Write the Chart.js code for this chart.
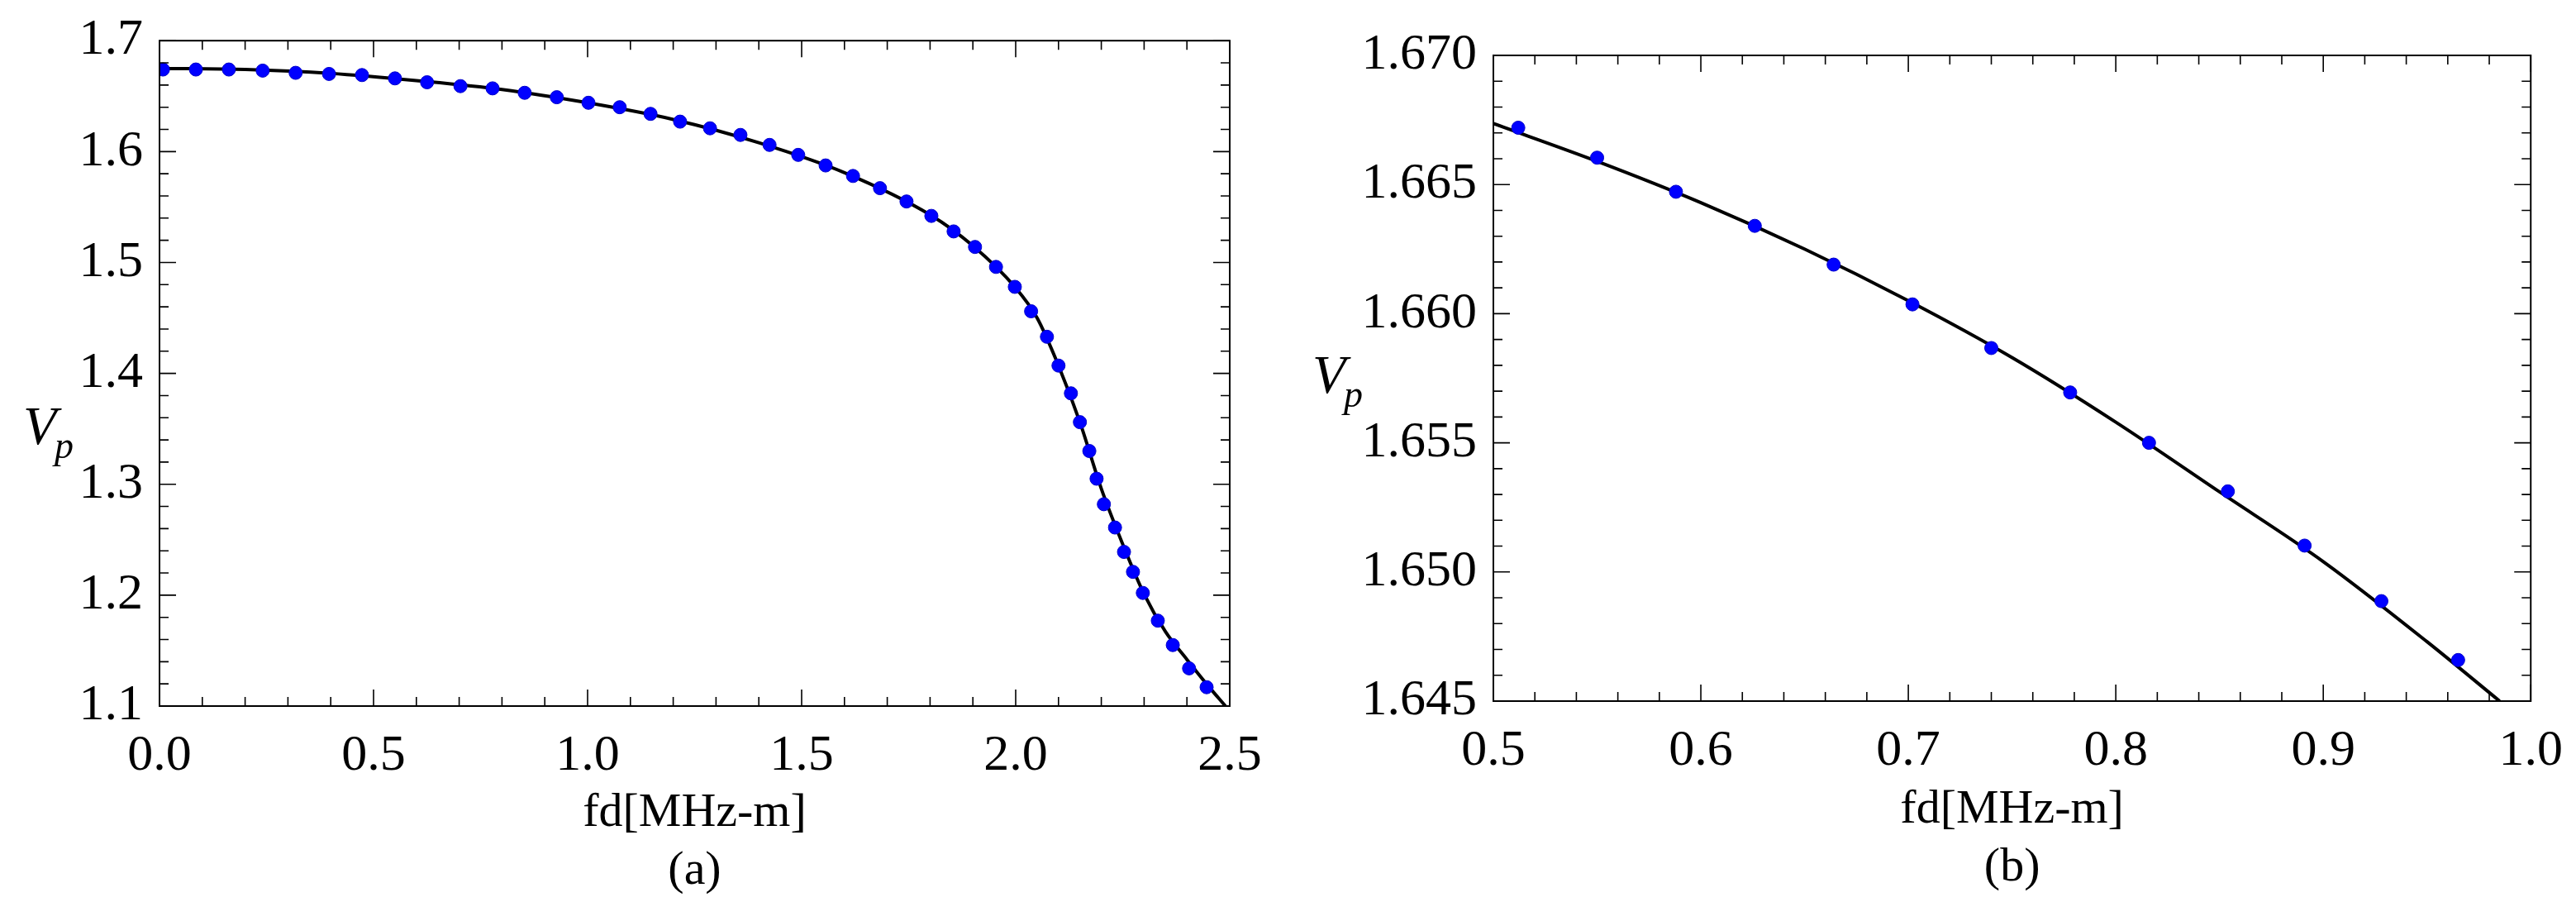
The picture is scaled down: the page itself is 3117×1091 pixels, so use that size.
<!DOCTYPE html>
<html>
<head>
<meta charset="utf-8">
<script src="https://cdn.jsdelivr.net/npm/chart.js@4/dist/chart.umd.min.js"></script>
<style>
  body { margin: 0; background: #fff; width: 3117px; height: 1091px; position: relative; overflow: hidden; }
  .panel { position: absolute; top: 0; height: 1091px; }
</style>
</head>
<body>
<div class="panel" style="left:0;width:1560px"><canvas id="chart-a"></canvas></div>
<div class="panel" style="left:1560px;width:1557px"><canvas id="chart-b"></canvas></div>
<script>
// panel (a): sampled points and fitted curve
var ptsAX = [0.008,0.085,0.162,0.241,0.318,0.396,0.473,0.55,0.625,0.703,0.778,0.853,0.928,1.002,1.075,1.147,1.216,1.286,1.357,1.425,1.492,1.556,1.62,1.683,1.745,1.803,1.855,1.905,1.954,1.998,2.036,2.073,2.1,2.129,2.15,2.172,2.189,2.206,2.232,2.253,2.274,2.297,2.332,2.367,2.405,2.446];
var ptsAY = [1.674,1.674,1.674,1.673,1.671,1.670,1.669,1.666,1.6625,1.659,1.657,1.653,1.649,1.644,1.640,1.634,1.627,1.621,1.615,1.606,1.597,1.5875,1.578,1.567,1.555,1.542,1.528,1.514,1.496,1.478,1.456,1.433,1.407,1.382,1.356,1.330,1.305,1.282,1.261,1.239,1.221,1.202,1.177,1.155,1.134,1.117];
var curveAX = [0, 0.2, 0.4, 0.6, 0.8, 1.0, 1.2, 1.4, 1.6, 1.8, 1.9, 2.0, 2.05, 2.1, 2.15, 2.2, 2.25, 2.3, 2.35, 2.4, 2.45, 2.49];
var curveAY = [1.675, 1.674, 1.6705, 1.664, 1.656, 1.644, 1.629, 1.608, 1.581, 1.543, 1.515, 1.477, 1.450, 1.407, 1.356, 1.296, 1.246, 1.201, 1.167, 1.142, 1.118, 1.100];
// panel (b): zoomed region
var ptsBX = [0.512,0.550,0.588,0.626,0.664,0.702,0.740,0.778,0.816,0.854,0.891,0.928,0.965];
var ptsBY = [1.66720,1.66604,1.66472,1.66340,1.66190,1.66036,1.65867,1.65695,1.65500,1.65312,1.65102,1.64887,1.64659];
var curveBX = [0.5, 0.55, 0.6, 0.65, 0.7, 0.75, 0.8, 0.85, 0.9, 0.95, 0.985];
var curveBY = [1.66736, 1.6659, 1.6643, 1.6625, 1.6605, 1.6583, 1.6558, 1.6531, 1.6504, 1.6473, 1.6450];

var FONT = 'Liberation Serif, serif';
Chart.defaults.font.family = FONT;

function xy(xs, ys) { return xs.map(function (x, i) { return { x: x, y: ys[i] }; }); }

// inward ticks on all four sides, frame, and axis titles
function frameTicks(cfg) {
  return {
    id: 'frameTicks',
    afterDraw: function (chart) {
      var c = chart.ctx, a = chart.chartArea, sx = chart.scales.x, sy = chart.scales.y;
      c.save();
      c.strokeStyle = '#000'; c.lineWidth = 2;
      c.strokeRect(a.left, a.top, a.right - a.left, a.bottom - a.top);
      c.lineWidth = 1.6;
      function ticks(min, max, step, major, fn) {
        var n = Math.round((max - min) / step);
        for (var i = 0; i <= n; i++) {
          var v = min + i * step;
          var isMajor = Math.abs(Math.round(v / major) * major - v) < step / 10;
          fn(v, isMajor ? 20 : 11);
        }
      }
      c.beginPath();
      ticks(cfg.xmin, cfg.xmax, cfg.xminor, cfg.xmajor, function (v, L) {
        var p = sx.getPixelForValue(v);
        c.moveTo(p, a.bottom); c.lineTo(p, a.bottom - L);
        c.moveTo(p, a.top); c.lineTo(p, a.top + L);
      });
      ticks(cfg.ymin, cfg.ymax, cfg.yminor, cfg.ymajor, function (v, L) {
        var p = sy.getPixelForValue(v);
        c.moveTo(a.left, p); c.lineTo(a.left + L, p);
        c.moveTo(a.right, p); c.lineTo(a.right - L, p);
      });
      c.stroke();
      c.fillStyle = '#000';
      c.textAlign = 'center'; c.textBaseline = 'middle';
      c.font = '58px ' + FONT;
      var cx = (a.left + a.right) / 2;
      c.fillText('fd[MHz-m]', cx, cfg.titleY);
      c.fillText(cfg.tag, cx, cfg.titleY + 70);
      c.font = 'italic 66px ' + FONT;
      c.textAlign = 'left';
      c.fillText('V', cfg.vx, cfg.vy);
      c.font = 'italic 46px ' + FONT;
      c.fillText('p', cfg.vx + 38, cfg.vy + 22);
      c.restore();
    }
  };
}

function makeChart(id, ptsX, ptsY, curX, curY, cfg) {
  return new Chart(document.getElementById(id).getContext('2d'), {
    type: 'scatter',
    data: {
      datasets: [
        { data: xy(curX, curY), showLine: true, borderColor: '#000', borderWidth: 4, pointRadius: 0, cubicInterpolationMode: 'monotone', order: 2 },
        { data: xy(ptsX, ptsY), showLine: false, backgroundColor: '#0000ff', borderColor: '#0000cc', borderWidth: 1, pointRadius: 8, order: 1 }
      ]
    },
    options: {
      responsive: true, maintainAspectRatio: false, animation: false,
      layout: { padding: { top: cfg.padTop, right: cfg.padRight, left: 0, bottom: 0 } },
      plugins: { legend: { display: false }, tooltip: { enabled: false } },
      scales: {
        x: {
          type: 'linear', min: cfg.xmin, max: cfg.xmax,
          grid: { display: false }, border: { display: false },
          afterFit: function (s) { s.height = cfg.xh; },
          ticks: { stepSize: cfg.xmajor, padding: 16, color: '#000', font: { family: FONT, size: 62 }, maxRotation: 0,
            callback: function (v) { return Number(v).toFixed(1); } }
        },
        y: {
          type: 'linear', min: cfg.ymin, max: cfg.ymax,
          grid: { display: false }, border: { display: false },
          afterFit: function (s) { s.width = cfg.yw; },
          ticks: { stepSize: cfg.ymajor, padding: 12, color: '#000', font: { family: FONT, size: 62 },
            callback: function (v) { return Number(v).toFixed(cfg.ydec); } }
        }
      }
    },
    plugins: [frameTicks(cfg)]
  });
}

makeChart('chart-a', ptsAX, ptsAY, curveAX, curveAY, {
  xmin: 0, xmax: 2.5, xmajor: 0.5, xminor: 0.1,
  ymin: 1.1, ymax: 1.7, ymajor: 0.1, yminor: 0.02, ydec: 1,
  padTop: 49, padRight: 72, xh: 237, yw: 193,
  titleY: 984, tag: '(a)', vx: 28, vy: 520
});
makeChart('chart-b', ptsBX, ptsBY, curveBX, curveBY, {
  xmin: 0.5, xmax: 1.0, xmajor: 0.1, xminor: 0.02,
  ymin: 1.645, ymax: 1.670, ymajor: 0.005, yminor: 0.001, ydec: 3,
  padTop: 67, padRight: 52, xh: 243, yw: 247,
  titleY: 980, tag: '(b)', vx: 28, vy: 458
});
</script>
</body>
</html>
